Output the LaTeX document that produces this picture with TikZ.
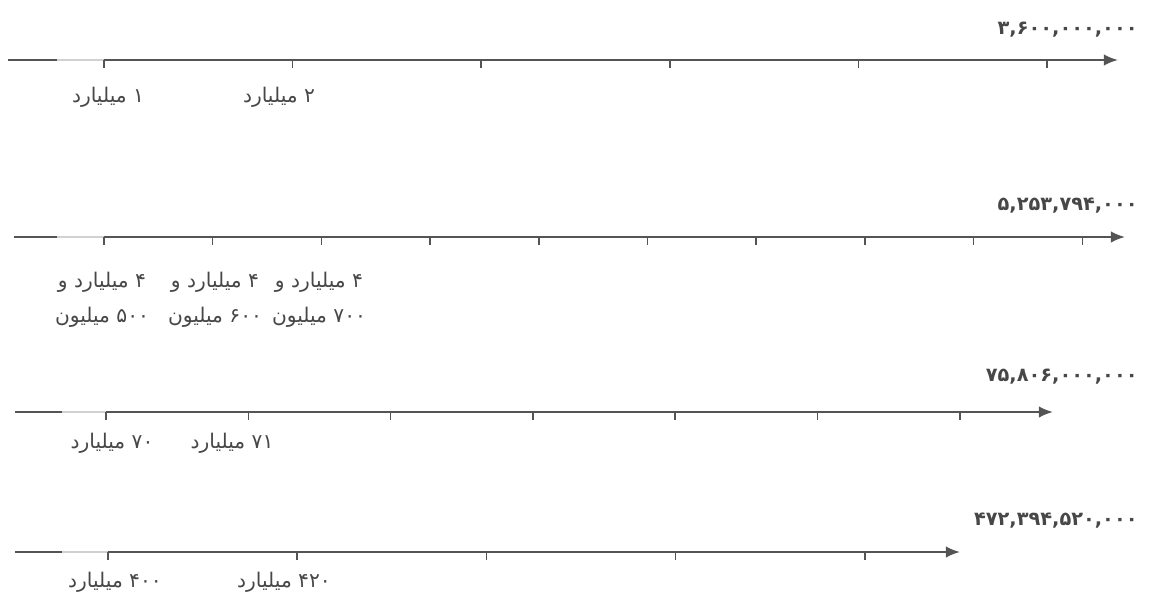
\documentclass[tikz,border=0pt]{standalone}
\usepackage{fontspec}
\newfontfamily\arabicfont[Script=Arabic]{DejaVu Sans}
\TeXXeTstate=1
\usetikzlibrary{arrows.meta}
\definecolor{axisgray}{gray}{0.33}
\definecolor{fadegray}{gray}{0.82}
\definecolor{textgray}{gray}{0.28}
\tikzset{
  axis/.style={draw=axisgray, line width=1.1pt, -{Latex[length=8pt,width=6.5pt]}},
  stub/.style={draw=axisgray, line width=1.1pt},
  fade/.style={draw=fadegray, line width=1.1pt},
  tickmark/.style={draw=axisgray, line width=0.9pt},
  lbl/.style={text=textgray, font=\arabicfont\fontsize{11.5}{20}\selectfont, align=center, inner sep=0pt},
  total/.style={text=textgray, font=\arabicfont\bfseries\fontsize{11}{12}\selectfont, anchor=east, inner sep=0pt},
}
\begin{document}
\begin{tikzpicture}[x=0.02cm, y=-0.02cm]
    \useasboundingbox (0,0) rectangle (1152,595);

    \foreach \k/\y/\s/\g/\z/\d/\n/\e in {1/60/8/57/104/188.6/5/1118, 2/237/14/57/104/108.7/9/1125,
                                          3/412/15/62/106/142.3/6/1053, 4/552/15/62/108/189.2/4/960} {
        \coordinate (s\k) at (\s,\y);
        \coordinate (g\k) at (\g,\y);
        \coordinate (z\k) at (\z,\y);
        \coordinate (e\k) at (\e,\y);
        \draw[stub] (s\k) -- (g\k);
        \draw[fade] (g\k) -- (z\k);
        \draw[axis] (z\k) -- (e\k);
        \foreach \i in {0,...,\n} {
            \coordinate (t\k-\i) at (\z+\d*\i,\y);
            \draw[tickmark] (t\k-\i) -- ++(0,8);
        }
    }

    \node[total] (n1) at (1138,30) {۳,۶۰۰,۰۰۰,۰۰۰};
    \node[total] (n2) at (1138,206) {۵,۲۵۳,۷۹۴,۰۰۰};
    \node[total] (n3) at (1138,377) {۷۵,۸۰۶,۰۰۰,۰۰۰};
    \node[total] (n4) at (1138,521) {۴۷۲,۳۹۴,۵۲۰,۰۰۰};

    \node[lbl] (a1) at (108,97) {\beginR ۱ میلیارد\endR};
    \node[lbl] (a2) at (279,97) {\beginR ۲ میلیارد\endR};

    \node[lbl] (b1) at (102,300) {\beginR ۴ میلیارد و\endR\\\beginR ۵۰۰ میلیون\endR};
    \node[lbl] (b2) at (215,300) {\beginR ۴ میلیارد و\endR\\\beginR ۶۰۰ میلیون\endR};
    \node[lbl] (b3) at (319,300) {\beginR ۴ میلیارد و\endR\\\beginR ۷۰۰ میلیون\endR};

    \node[lbl] (c1) at (112,443) {\beginR ۷۰ میلیارد\endR};
    \node[lbl] (c2) at (232,443) {\beginR ۷۱ میلیارد\endR};

    \node[lbl] (d1) at (115,582) {\beginR ۴۰۰ میلیارد\endR};
    \node[lbl] (d2) at (284,582) {\beginR ۴۲۰ میلیارد\endR};
\end{tikzpicture}
\end{document}
